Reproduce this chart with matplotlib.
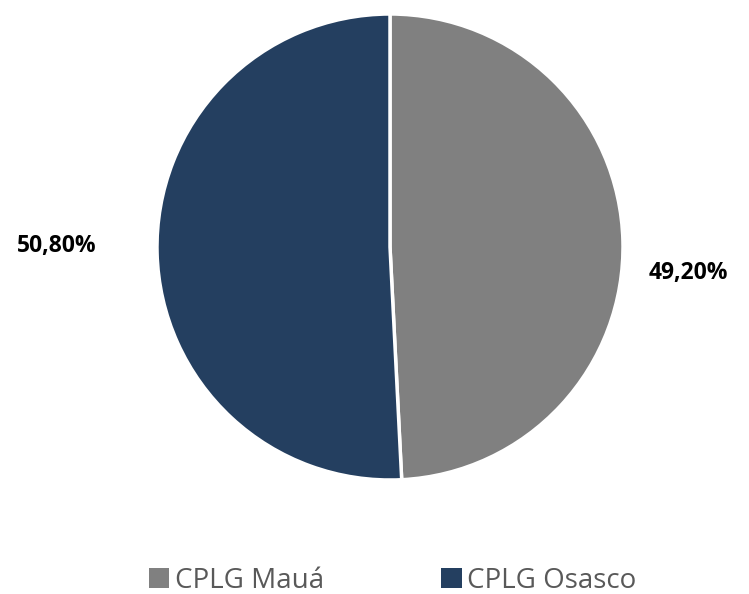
import matplotlib.pyplot as plt
from matplotlib.patches import Patch

# shares of each plant
labels = ["CPLG Mauá", "CPLG Osasco"]
shares = [49.20, 50.80]
pct_text = ["49,20%", "50,80%"]
colors = ["#808080", "#243F60"]

plt.rcParams['font.family'] = ['Open Sans', 'DejaVu Sans']

fig = plt.figure(figsize=(7.49, 5.94), dpi=100)
ax = fig.add_axes([157 / 749, 114 / 594, 466 / 749, 466 / 594])

wedges, _ = ax.pie(shares, colors=colors, startangle=90, counterclock=False,
                   wedgeprops=dict(edgecolor="white", linewidth=2.5))
ax.set_xlim(-1, 1)
ax.set_ylim(-1, 1)
ax.set_aspect("equal")

# data labels (placed like the original)
label_pos = [(1.28, -0.112), (-1.43, 0.004)]
for (x, y), t in zip(label_pos, pct_text):
    ax.text(x, y, t, ha="center", va="center", fontsize=16.5,
            fontweight="bold", color="black", clip_on=False)

handles = [Patch(facecolor=c, edgecolor="none") for c in colors]
fig.legend(handles, labels, loc="center", bbox_to_anchor=(0.524, 1 - 581 / 594),
           ncol=2, frameon=False, fontsize=20, labelcolor="#595959",
           handlelength=0.75, handleheight=0.75, handletextpad=0.2,
           columnspacing=4.2)

fig.savefig("out.png", dpi=100)
plt.close()
